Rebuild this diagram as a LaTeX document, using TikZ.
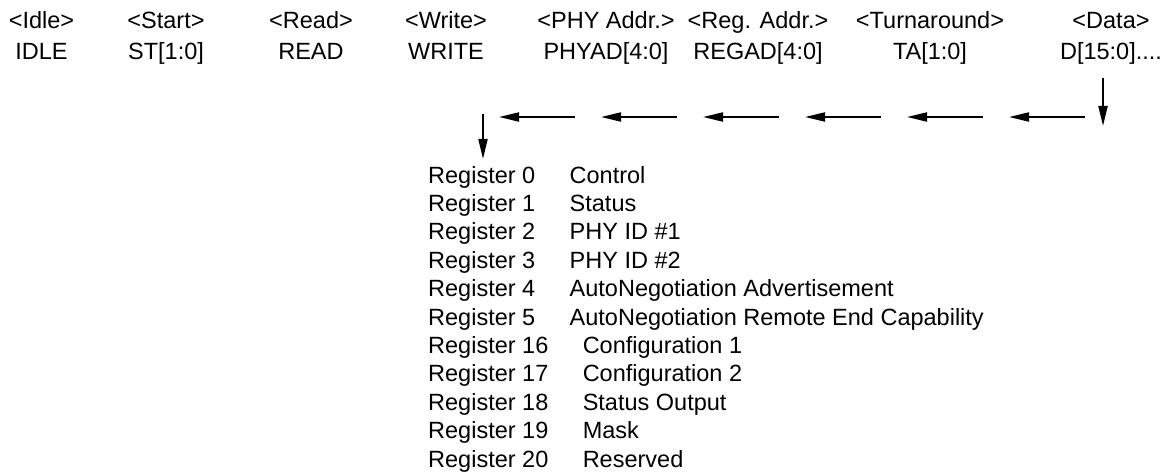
\documentclass[tikz,border=0pt]{standalone}
\usepackage{fontspec}
\setmainfont{Liberation Sans}
\usetikzlibrary{arrows.meta,positioning}
\tikzset{>={Triangle[length=20pt,width=9pt]},node distance=2cm}
\tikzset{txt/.style={inner sep=0pt,font=\fontsize{23.5}{28}\selectfont},
         flow/.style={->,line width=2pt}}

\begin{document}
\begin{tikzpicture}[x=1pt,y=-1pt]
    \useasboundingbox (0,0) rectangle (1167,476);
    % frame fields
    \foreach \x/\nm/\lbl/\val in {41.5/idle/Idle/IDLE,166/start/Start/ST[1:0],311/read/Read/READ,
            446/write/Write/WRITE,606/phy/PHY Addr./PHYAD[4:0],758/reg/Reg. Addr./REGAD[4:0],
            930/ta/Turnaround/TA[1:0]}{
        \node[txt,anchor=base] (\nm) at (\x,28.5) {<\lbl>};
        \node[txt,anchor=base] (\nm v) at (\x,60) {\val};
    }
    \node[txt,anchor=base] (data) at (1111,28.5) {<Data>};
    \node[txt,anchor=base] (datav) at (1111,60) {D[15:0]....};
    % registers
    \foreach \n/\d [count=\i from 0] in {0/Control,1/Status,2/PHY ID \#1,3/PHY ID \#2,
            4/AutoNegotiation Advertisement,5/AutoNegotiation Remote End Capability,
            16/Configuration 1,17/Configuration 2,18/Status Output,19/Mask,20/Reserved}{
        \node[txt,anchor=base west] (r\i) at (428,183+28.4*\i) {Register \n};
        \node[txt,right=34pt of r\i.base east,anchor=base west] (d\i) {\d};
    }
    % shift direction
    \foreach \k in {0,...,5}{
        \coordinate (t\k) at (575+102*\k,117);
        \coordinate (h\k) at (499+102*\k,117);
        \draw[flow] (t\k) -- (h\k);
    }
    \coordinate (dtop) at (1103,78);
    \coordinate (dbot) at (1103,126);
    \draw[flow] (dtop) -- (dbot);
    \coordinate (qtop) at (483,114);
    \coordinate (qbot) at (483,159);
    \draw[flow] (qtop) -- (qbot);
\end{tikzpicture}
\end{document}
